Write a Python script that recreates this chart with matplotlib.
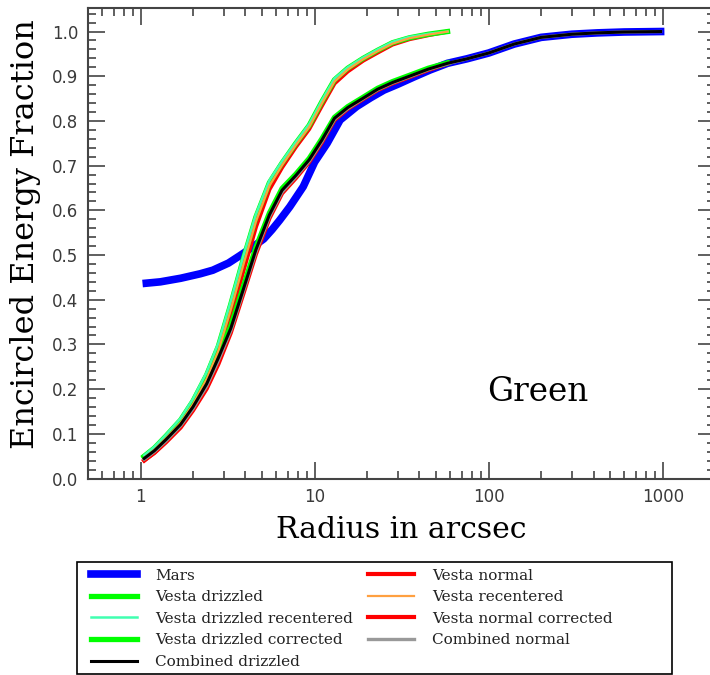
import numpy as np
import matplotlib
matplotlib.use('Agg')
import matplotlib.pyplot as plt
from matplotlib.patches import Rectangle
from matplotlib.ticker import MultipleLocator, FixedLocator, NullFormatter, FormatStrFormatter

# radius grid shared by the Vesta curves (arcsec)
r_vesta = [1.05, 1.2, 1.4, 1.7, 2.0, 2.4, 2.8, 3.3, 3.9, 4.6, 5.5, 6.5, 7.8,
           9.3, 11, 13, 15.5, 19, 23, 28, 35, 45, 58]

# upper group (uncorrected)
ee_drz = [0.050, 0.068, 0.095, 0.131, 0.173, 0.232, 0.296, 0.390, 0.492, 0.585, 0.662, 0.706, 0.750,
          0.790, 0.843, 0.892, 0.918, 0.940, 0.958, 0.975, 0.986, 0.994, 1.0]
ee_drz_rec = [0.052, 0.071, 0.098, 0.135, 0.178, 0.238, 0.303, 0.397, 0.499, 0.591, 0.667, 0.710, 0.753,
              0.793, 0.846, 0.895, 0.920, 0.942, 0.960, 0.977, 0.988, 0.995, 1.0]
ee_norm = [0.040, 0.058, 0.083, 0.117, 0.157, 0.212, 0.274, 0.364, 0.465, 0.563, 0.647, 0.696, 0.742,
           0.782, 0.834, 0.884, 0.911, 0.935, 0.953, 0.971, 0.983, 0.992, 1.0]
ee_rec = [0.046, 0.064, 0.090, 0.125, 0.166, 0.223, 0.286, 0.378, 0.479, 0.575, 0.655, 0.701, 0.746,
          0.786, 0.839, 0.888, 0.915, 0.938, 0.956, 0.973, 0.985, 0.993, 1.0]

# lower group (corrected)
ee_drz_cor = [0.048, 0.065, 0.091, 0.125, 0.165, 0.218, 0.276, 0.341, 0.430, 0.517, 0.594, 0.649, 0.681,
              0.716, 0.760, 0.808, 0.832, 0.853, 0.873, 0.888, 0.902, 0.918, 0.930]
ee_norm_cor = [0.041, 0.057, 0.081, 0.114, 0.152, 0.201, 0.256, 0.326, 0.414, 0.502, 0.582, 0.638, 0.672,
               0.708, 0.752, 0.802, 0.827, 0.849, 0.869, 0.884, 0.898, 0.914, 0.928]

# combined curves continue out with the Mars profile
r_comb = [1.05, 1.2, 1.4, 1.7, 2.0, 2.4, 2.8, 3.3, 3.9, 4.6, 5.5, 6.5, 7.8,
          9.3, 11, 13, 15.5, 19, 23, 28, 35, 45, 58, 75, 100, 140, 200, 300, 420, 600, 970]
ee_comb_drz = [0.045, 0.062, 0.087, 0.121, 0.160, 0.212, 0.270, 0.336, 0.424, 0.512, 0.590, 0.645, 0.678,
               0.713, 0.757, 0.806, 0.830, 0.851, 0.871, 0.886, 0.900, 0.916, 0.929,
               0.939, 0.952, 0.972, 0.987, 0.994, 0.997, 0.999, 1.0]
ee_comb_norm = [0.043, 0.060, 0.084, 0.118, 0.156, 0.207, 0.264, 0.331, 0.419, 0.507, 0.586, 0.641, 0.675,
                0.710, 0.754, 0.804, 0.828, 0.850, 0.870, 0.885, 0.899, 0.915, 0.928,
                0.939, 0.952, 0.972, 0.987, 0.994, 0.997, 0.999, 1.0]

r_mars = [1.08, 1.3, 1.7, 2.2, 2.6, 3.2, 3.7, 4.3, 5.1, 5.7, 6.3, 7.2, 8.6, 10, 11.8, 14, 17.4, 21,
          25, 30, 37, 46, 58, 75, 100, 140, 200, 300, 420, 600, 970]
ee_mars = [0.437, 0.440, 0.448, 0.458, 0.466, 0.482, 0.498, 0.515, 0.536, 0.557, 0.578, 0.608, 0.653,
           0.708, 0.750, 0.802, 0.832, 0.852, 0.869, 0.882, 0.898, 0.914, 0.929, 0.939, 0.952, 0.972,
           0.987, 0.994, 0.997, 0.999, 1.0]

band_label = 'Green'

fig = plt.figure(figsize=(7.1, 6.75), dpi=100)
# right spine sits just past the image edge, as in the original
ax = fig.add_axes([88.1 / 710, 1 - 478.5 / 675, (715.3 - 88.1) / 710, (478.5 - 8.3) / 675])

ax.plot(r_mars, ee_mars, color='#0000ff', lw=5.5, label='Mars', zorder=2)
ax.plot(r_vesta, ee_drz, color='#00ff00', lw=3.8, label='Vesta drizzled', zorder=3)
ax.plot(r_vesta, ee_drz_rec, color='#40ffb0', lw=1.8, label='Vesta drizzled recentered', zorder=4)
ax.plot(r_vesta, ee_drz_cor, color='#00ff00', lw=3.8, label='Vesta drizzled corrected', zorder=3)
ax.plot(r_comb, ee_comb_drz, color='black', lw=2.2, label='Combined drizzled', zorder=6)
ax.plot(r_vesta, ee_norm, color='#ff0000', lw=3.0, label='Vesta normal', zorder=2.5)
ax.plot(r_vesta, ee_rec, color='#ffa040', lw=1.6, label='Vesta recentered', zorder=4)
ax.plot(r_vesta, ee_norm_cor, color='#ff0000', lw=3.0, label='Vesta normal corrected', zorder=2.5)
ax.plot(r_comb, ee_comb_norm, color='#999999', lw=2.4, label='Combined normal', zorder=5)

ax.set_xscale('log')
ax.set_xlim(0.5, 2000)
ax.set_ylim(0.0, 1.052)

ax.xaxis.set_major_locator(FixedLocator([1, 10, 100, 1000]))
ax.xaxis.set_minor_locator(FixedLocator([m * 10.0 ** e for e in range(-1, 4) for m in range(2, 10)]))
ax.xaxis.set_minor_formatter(NullFormatter())
ax.set_xticklabels(['1', '10', '100', '1000'])
ax.yaxis.set_major_locator(MultipleLocator(0.1))
ax.yaxis.set_minor_locator(MultipleLocator(0.02))
ax.yaxis.set_major_formatter(FormatStrFormatter('%.1f'))

ax.tick_params(which='both', direction='in', top=True, right=True, color='#444444', width=1.2)
ax.tick_params(which='major', length=12, labelsize=12, labelcolor='#3a3a3a', pad=7)
ax.tick_params(which='minor', length=6)
for sp in ax.spines.values():
    sp.set_color('#444444')
    sp.set_linewidth(1.5)

ax.set_xlabel('Radius in arcsec', family='DejaVu Serif', fontsize=21.5, labelpad=7)
ax.set_ylabel('Encircled Energy Fraction', family='DejaVu Serif', fontsize=23, labelpad=8, y=0.519)
ax.text(192, 0.194, band_label, family='DejaVu Serif', fontsize=23.5, ha='center', va='center')

leg = fig.legend(loc='upper left', bbox_to_anchor=(91 / 710, 1 - 568.5 / 675),
                 ncol=2, prop={'family': 'DejaVu Serif', 'size': 11},
                 frameon=False, handlelength=3.0, handletextpad=1.2,
                 labelspacing=0.5, columnspacing=1.0, borderpad=0, borderaxespad=0)
for t in leg.get_texts():
    t.set_color('#222222')
fig.patches.append(Rectangle((77 / 710, 1 - 674 / 675), 595 / 710, 112 / 675,
                             transform=fig.transFigure, fill=False, ec='black', lw=1.2))

fig.savefig('out.png', dpi=100)
